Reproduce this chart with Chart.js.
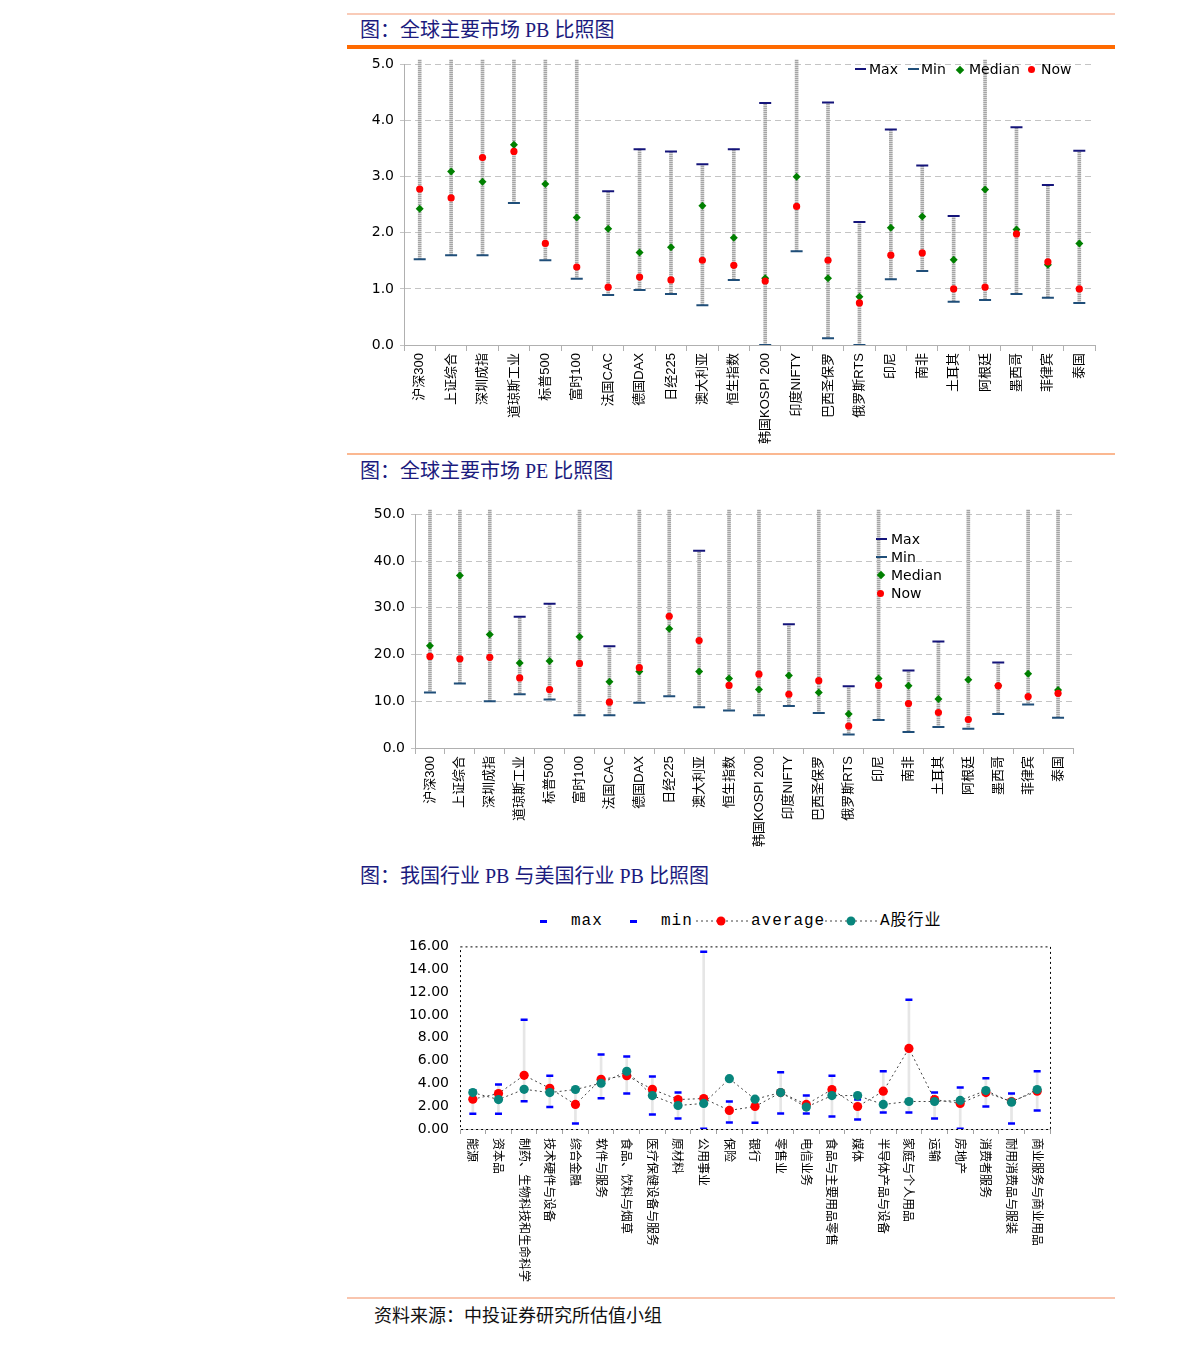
<!DOCTYPE html>
<html>
<head>
<meta charset="utf-8">
<script src="https://cdn.jsdelivr.net/npm/chart.js@4.4.1/dist/chart.umd.min.js"></script>
<style>
  body { margin: 0; background: #fff; width: 1191px; height: 1345px; position: relative; overflow: hidden; }
  .rule { position: absolute; left: 347px; width: 768px; }
  .title { position: absolute; left: 360px; font-family: "Liberation Serif", "Noto Sans CJK SC", serif; font-size: 20px; line-height: 24px; color: #1b1b7e; white-space: nowrap; }
  .lg { position: absolute; font-family: "DejaVu Sans", sans-serif; font-size: 14px; line-height: 16px; color: #000; white-space: nowrap; }
  .lg3 { position: absolute; font-family: "Liberation Mono", "Noto Sans CJK SC", monospace; font-size: 16px; line-height: 18px; color: #000; white-space: nowrap; letter-spacing: 1px; }
  .mk { position: absolute; }
  .box { position: absolute; }
  canvas { display: block; }
  .src { position: absolute; left: 374px; top: 1303px; font-family: "Noto Sans CJK SC", sans-serif; font-size: 18px; line-height: 22px; color: #111; }
</style>
</head>
<body>

<div class="rule" style="top:13px;height:2px;background:#f9cbb8"></div>
<div class="title" style="top:18px">图：全球主要市场 PB 比照图</div>
<div class="rule" style="top:45px;height:4px;background:#ff6a00"></div>

<div class="box" style="left:360px;top:50px"><canvas id="pbChart" width="750" height="400"></canvas></div>

<!-- PB legend -->
<div class="mk" style="left:855px;top:68px;width:11px;height:2px;background:#14147a"></div>
<div class="lg" style="left:869px;top:61px">Max</div>
<div class="mk" style="left:908px;top:68px;width:11px;height:2px;background:#1f4e79"></div>
<div class="lg" style="left:921px;top:61px">Min</div>
<div class="mk" style="left:957px;top:67px;width:6px;height:6px;background:#008000;transform:rotate(45deg)"></div>
<div class="lg" style="left:969px;top:61px">Median</div>
<div class="mk" style="left:1028px;top:66px;width:7px;height:7px;border-radius:50%;background:#ff0000"></div>
<div class="lg" style="left:1041px;top:61px">Now</div>

<div class="rule" style="top:453px;height:2px;background:#fbb891"></div>
<div class="title" style="top:459px">图：全球主要市场 PE 比照图</div>

<div class="box" style="left:360px;top:500px"><canvas id="peChart" width="730" height="350"></canvas></div>

<!-- PE legend -->
<div class="mk" style="left:876px;top:538px;width:11px;height:2px;background:#14147a"></div>
<div class="lg" style="left:891px;top:531px">Max</div>
<div class="mk" style="left:876px;top:556px;width:11px;height:2px;background:#1f4e79"></div>
<div class="lg" style="left:891px;top:549px">Min</div>
<div class="mk" style="left:878px;top:572px;width:6px;height:6px;background:#008000;transform:rotate(45deg)"></div>
<div class="lg" style="left:891px;top:567px">Median</div>
<div class="mk" style="left:877px;top:590px;width:7px;height:7px;border-radius:50%;background:#ff0000"></div>
<div class="lg" style="left:891px;top:585px">Now</div>

<div class="title" style="top:864px">图：我国行业 PB 与美国行业 PB 比照图</div>

<!-- industry legend -->
<div class="mk" style="left:540px;top:920px;width:7px;height:3px;background:#0000ff"></div>
<div class="lg3" style="left:571px;top:912px">max</div>
<div class="mk" style="left:630px;top:920px;width:7px;height:3px;background:#0000ff"></div>
<div class="lg3" style="left:661px;top:912px">min</div>
<svg class="mk" style="left:696px;top:915px" width="54" height="12">
  <line x1="0" y1="6" x2="54" y2="6" stroke="#444" stroke-width="1" stroke-dasharray="2,3"/>
  <circle cx="25" cy="6" r="4.5" fill="#ff0000"/>
</svg>
<div class="lg3" style="left:751px;top:912px">average</div>
<svg class="mk" style="left:825px;top:915px" width="54" height="12">
  <line x1="0" y1="6" x2="54" y2="6" stroke="#444" stroke-width="1" stroke-dasharray="2,3"/>
  <circle cx="26" cy="6" r="4.5" fill="#08857c"/>
</svg>
<div class="lg3" style="left:880px;top:912px">A股行业</div>

<div class="box" style="left:395px;top:927px"><canvas id="indChart" width="670" height="358"></canvas></div>

<div class="rule" style="top:1297px;height:2px;background:#f9c5ae"></div>
<div class="src">资料来源：中投证券研究所估值小组</div>

<script>
const markets = ["沪深300", "上证综合", "深圳成指", "道琼斯工业", "标普500", "富时100", "法国CAC", "德国DAX", "日经225", "澳大利亚", "恒生指数", "韩国KOSPI 200", "印度NIFTY", "巴西圣保罗", "俄罗斯RTS", "印尼", "南非", "土耳其", "阿根廷", "墨西哥", "菲律宾", "泰国"];

// PB (values above 5.0 run off the top of the axis)
const pbMax = [6.2, 6.0, 6.5, 5.6, 5.4, 5.3, 2.74, 3.49, 3.45, 3.22, 3.49, 4.31, 5.8, 4.32, 2.19, 3.84, 3.20, 2.30, 5.5, 3.88, 2.85, 3.46];
const pbMin = [1.53, 1.60, 1.60, 2.53, 1.51, 1.18, 0.89, 0.98, 0.91, 0.71, 1.16, 0.00, 1.67, 0.12, 0.00, 1.17, 1.32, 0.77, 0.80, 0.91, 0.84, 0.75];
const pbMedian = [2.43, 3.09, 2.91, 3.57, 2.87, 2.27, 2.07, 1.65, 1.74, 2.48, 1.91, 1.19, 3.00, 1.19, 0.86, 2.09, 2.29, 1.52, 2.77, 2.06, 1.43, 1.81];
const pbNow = [2.78, 2.62, 3.34, 3.45, 1.81, 1.39, 1.03, 1.21, 1.16, 1.51, 1.42, 1.14, 2.47, 1.51, 0.75, 1.60, 1.64, 1.00, 1.03, 1.98, 1.48, 1.00];

// PE (values above 50 run off the top of the axis)
const peMax = [55, 60, 58, 28.1, 30.9, 56, 21.8, 54, 65, 42.2, 52, 55, 26.5, 57, 13.2, 54, 16.6, 22.8, 60, 18.3, 53, 52];
const peMin = [11.9, 13.8, 10.0, 11.5, 10.4, 7.0, 7.0, 9.7, 11.1, 8.7, 8.0, 7.0, 9.0, 7.5, 2.9, 6.0, 3.4, 4.5, 4.1, 7.3, 9.3, 6.5];
const peMedian = [21.9, 36.9, 24.3, 18.2, 18.6, 23.8, 14.2, 16.4, 25.5, 16.4, 14.9, 12.5, 15.5, 11.9, 7.3, 14.9, 13.3, 10.5, 14.6, 13.3, 15.9, 12.4];
const peNow = [19.6, 19.1, 19.4, 15.0, 12.5, 18.1, 9.8, 17.2, 28.2, 23.0, 13.4, 15.8, 11.5, 14.4, 4.7, 13.4, 9.5, 7.6, 6.1, 13.3, 11.0, 11.7];

const industries = ["能源", "资本品", "制药、生物科技和生命科学", "技术硬件与设备", "综合金融", "软件与服务", "食品、饮料与烟草", "医疗保健设备与服务", "原材料", "公用事业", "保险", "银行", "零售业", "电信业务", "食品与主要用品零售", "媒体", "半导体产品与设备", "家庭与个人用品", "运输", "房地产", "消费者服务", "耐用消费品与服装", "商业服务与商业用品"];
const indMax = [3.40, 3.89, 9.58, 4.67, 3.35, 6.53, 6.36, 4.59, 3.19, 15.53, 2.41, 2.65, 4.97, 2.93, 4.67, 2.58, 5.05, 11.32, 3.19, 3.63, 4.44, 3.11, 5.05];
const indMin = [1.34, 1.34, 2.44, 1.92, 0.49, 2.70, 3.11, 1.28, 0.93, 0.03, 0.58, 0.55, 1.36, 1.36, 1.10, 0.84, 1.45, 1.45, 0.93, 0.03, 1.97, 0.49, 1.63];
const indAverage = [2.61, 3.11, 4.70, 3.57, 2.15, 4.36, 4.67, 3.48, 2.58, 2.67, 1.63, 1.97, 3.19, 2.15, 3.46, 1.97, 3.31, 7.06, 2.58, 2.24, 3.19, 2.41, 3.31];
const aShare = [3.19, 2.58, 3.48, 3.19, 3.46, 4.01, 5.05, 2.93, 2.06, 2.24, 4.41, 2.61, 3.19, 1.92, 2.93, 2.93, 2.15, 2.41, 2.41, 2.50, 3.37, 2.35, 3.46];

Chart.defaults.font.family = '"DejaVu Sans", sans-serif';
Chart.defaults.color = "#000";
Chart.defaults.animation = false;

// dotted grey texture for the min-max whiskers
const pc = document.createElement("canvas");
pc.width = 1; pc.height = 2;
const pctx = pc.getContext("2d");
pctx.fillStyle = "#a4a4a4"; pctx.fillRect(0, 0, 1, 1);
pctx.fillStyle = "#d6d6d6"; pctx.fillRect(0, 1, 1, 1);
const whisker = pctx.createPattern(pc, "repeat");

function rangeChart(id, maxs, mins, medians, nows, yMax, step, yWidth, xHeight, pad) {
    return new Chart(document.getElementById(id), {
        type: "bar",
        data: {
            labels: markets,
            datasets: [
                { type: "line", label: "Now", data: nows, showLine: false, pointStyle: "circle", pointRadius: 3.6, pointBackgroundColor: "#ff0000", pointBorderColor: "#ff0000", pointBorderWidth: 0 },
                { type: "line", label: "Median", data: medians, showLine: false, pointStyle: "rectRot", pointRadius: 4, pointBackgroundColor: "#008000", pointBorderColor: "#008000", pointBorderWidth: 0 },
                { type: "line", label: "Max", data: maxs, showLine: false, pointStyle: "line", pointRadius: 6, pointBorderColor: "#14147a", pointBorderWidth: 2 },
                { type: "line", label: "Min", data: mins, showLine: false, pointStyle: "line", pointRadius: 6, pointBorderColor: "#1f4e79", pointBorderWidth: 2 },
                { type: "bar", label: "range", data: mins.map((m, i) => [m, maxs[i]]), backgroundColor: whisker, barThickness: 3, clip: { left: 0, top: 5, right: 0, bottom: 0 } },
            ],
        },
        options: {
            responsive: false,
            layout: { padding: pad },
            plugins: { legend: { display: false }, tooltip: { enabled: false } },
            scales: {
                x: {
                    afterFit: (s) => { s.height = xHeight; },
                    grid: { offset: true, drawOnChartArea: false, tickLength: 6, color: "#b0b0b0" },
                    border: { color: "#b0b0b0" },
                    ticks: {
                        autoSkip: false, minRotation: 90, maxRotation: 90, padding: 2,
                        font: { family: '"Liberation Sans", "Noto Sans CJK SC", sans-serif', size: 13 },
                    },
                },
                y: {
                    min: 0, max: yMax,
                    afterFit: (s) => { s.width = yWidth; },
                    grid: { color: "#c4c4c4", tickLength: 4 },
                    border: { color: "#b0b0b0", dash: [6, 4] },
                    ticks: { stepSize: step, padding: 6, font: { size: 14 }, callback: (v) => v.toFixed(1) },
                },
            },
        },
    });
}

rangeChart("pbChart", pbMax, pbMin, pbMedian, pbNow, 5, 1, 44, 105, { top: 14, right: 15, left: 0, bottom: 0 });
rangeChart("peChart", peMax, peMin, peMedian, peNow, 50, 10, 55, 102, { top: 13, right: 17, left: 0, bottom: 0 });

// industry chart: dotted frame and clockwise-rotated category names
const dottedFrame = {
    id: "dottedFrame",
    beforeDatasetsDraw(chart) {
        const { left, top, right, bottom } = chart.chartArea;
        const ctx = chart.ctx;
        ctx.save();
        ctx.strokeStyle = "#cfcfcf";
        ctx.beginPath(); ctx.moveTo(left, bottom + 0.5); ctx.lineTo(right, bottom + 0.5); ctx.stroke();
        ctx.strokeStyle = "#000";
        ctx.setLineDash([2, 3]);
        ctx.strokeRect(left + 0.5, top + 0.5, right - left, bottom - top);
        ctx.restore();
    },
};

const downLabels = {
    id: "downLabels",
    afterDraw(chart) {
        const xs = chart.scales.x;
        const ctx = chart.ctx;
        ctx.save();
        ctx.font = '12px "Noto Sans CJK SC", sans-serif';
        ctx.fillStyle = "#000";
        ctx.textAlign = "left";
        ctx.textBaseline = "middle";
        chart.data.labels.forEach((lab, i) => {
            ctx.save();
            ctx.translate(xs.getPixelForValue(i), xs.top + 9);
            ctx.rotate(Math.PI / 2);
            ctx.fillText(lab, 0, 0);
            ctx.restore();
        });
        ctx.restore();
    },
};

new Chart(document.getElementById("indChart"), {
    type: "bar",
    data: {
        labels: industries,
        datasets: [
            { type: "line", label: "A股行业", data: aShare, borderColor: "#444", borderWidth: 1, borderDash: [2, 3], pointRadius: 4.6, pointBackgroundColor: "#08857c", pointBorderColor: "#08857c", pointBorderWidth: 0 },
            { type: "line", label: "average", data: indAverage, borderColor: "#444", borderWidth: 1, borderDash: [2, 3], pointRadius: 4.6, pointBackgroundColor: "#ff0000", pointBorderColor: "#ff0000", pointBorderWidth: 0 },
            { type: "line", label: "max", data: indMax, showLine: false, pointStyle: "line", pointRadius: 3.5, pointBorderColor: "#0000ff", pointBorderWidth: 2.5 },
            { type: "line", label: "min", data: indMin, showLine: false, pointStyle: "line", pointRadius: 3.5, pointBorderColor: "#0000ff", pointBorderWidth: 2.5 },
            { type: "bar", label: "range", data: indMin.map((m, i) => [m, indMax[i]]), backgroundColor: "#e6e6e6", barThickness: 2 },
        ],
    },
    options: {
        responsive: false,
        layout: { padding: { top: 10, right: 15, left: 0, bottom: 0 } },
        plugins: { legend: { display: false }, tooltip: { enabled: false } },
        scales: {
            x: {
                afterFit: (s) => { s.height = 156; },
                grid: { offset: true, drawOnChartArea: false, tickLength: 5, color: "#a0a0a0" },
                border: { display: false },
                ticks: { display: false },
            },
            y: {
                min: 0, max: 16,
                afterFit: (s) => { s.width = 65; },
                grid: { display: false, drawTicks: false },
                border: { display: false },
                ticks: { stepSize: 2, padding: 11, font: { size: 14 }, callback: (v) => v.toFixed(2) },
            },
        },
    },
    plugins: [dottedFrame, downLabels],
});
</script>
</body>
</html>
